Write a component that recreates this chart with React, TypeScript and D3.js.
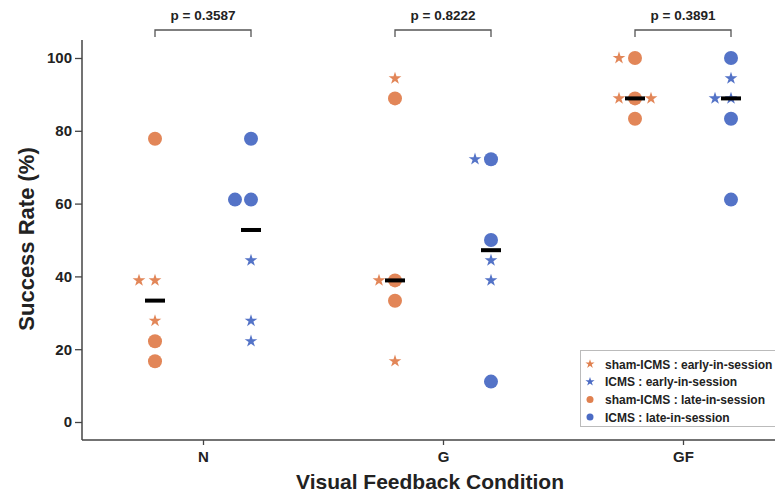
import React, { useEffect, useRef } from "react";
import * as d3 from "d3";

const categories = ["N", "G", "GF"];
const pValues = ["p = 0.3587", "p = 0.8222", "p = 0.3891"];
const yTicks = [0, 20, 40, 60, 80, 100];

// each point: category, value, side-by-side dodge slot (-1 left, 0 centre, 1 right)
const shamEarly = [
  { cat: "N", v: 38.9, d: -1 }, { cat: "N", v: 38.9, d: 0 }, { cat: "N", v: 27.8, d: 0 },
  { cat: "G", v: 94.4, d: 0 }, { cat: "G", v: 38.9, d: -1 }, { cat: "G", v: 16.7, d: 0 },
  { cat: "GF", v: 100, d: -1 }, { cat: "GF", v: 88.9, d: -1 }, { cat: "GF", v: 88.9, d: 1 },
];
const icmsEarly = [
  { cat: "N", v: 44.4, d: 0 }, { cat: "N", v: 27.8, d: 0 }, { cat: "N", v: 22.2, d: 0 },
  { cat: "G", v: 72.2, d: -1 }, { cat: "G", v: 44.4, d: 0 }, { cat: "G", v: 38.9, d: 0 },
  { cat: "GF", v: 94.4, d: 0 }, { cat: "GF", v: 88.9, d: -1 }, { cat: "GF", v: 88.9, d: 0 },
];
const shamLate = [
  { cat: "N", v: 77.8, d: 0 }, { cat: "N", v: 22.2, d: 0 }, { cat: "N", v: 16.7, d: 0 },
  { cat: "G", v: 88.9, d: 0 }, { cat: "G", v: 38.9, d: 0 }, { cat: "G", v: 33.3, d: 0 },
  { cat: "GF", v: 100, d: 0 }, { cat: "GF", v: 88.9, d: 0 }, { cat: "GF", v: 83.3, d: 0 },
];
const icmsLate = [
  { cat: "N", v: 77.8, d: 0 }, { cat: "N", v: 61.1, d: -1 }, { cat: "N", v: 61.1, d: 0 },
  { cat: "G", v: 72.2, d: 0 }, { cat: "G", v: 50, d: 0 }, { cat: "G", v: 11.1, d: 0 },
  { cat: "GF", v: 100, d: 0 }, { cat: "GF", v: 83.3, d: 0 }, { cat: "GF", v: 61.1, d: 0 },
];

const orange = "#E0804F";
const blue = "#4B6BC4";
const font = "Liberation Sans, Arial, sans-serif";

const App = () => {
  const ref = useRef<SVGSVGElement>(null);
  const width = 775;
  const height = 497;

  useEffect(() => {
    const svg = d3.select(ref.current);
    svg.selectAll("*").remove();

    const x = d3.scalePoint().domain(categories).range([83, 803]).padding(0.5);
    const y = d3.scaleLinear().domain([0, 100]).range([422, 58]);
    const groupOff = 48;
    const dodge = 16;

    // axes
    const yAxis = svg.append("g")
      .attr("transform", "translate(82,0)")
      .call(d3.axisLeft(y).tickValues(yTicks).tickSize(7).tickPadding(3).tickSizeOuter(0));
    yAxis.select(".domain").attr("d", "M0,40V440").attr("stroke", "#444").attr("stroke-width", 1.5);
    yAxis.selectAll(".tick line").attr("stroke", "#444").attr("stroke-width", 1.3);
    yAxis.selectAll(".tick text")
      .attr("font-family", font).attr("font-weight", "bold").attr("font-size", 15).attr("fill", "#222");

    const xAxis = svg.append("g")
      .attr("transform", "translate(0,440)")
      .call(d3.axisBottom(x).tickSize(5).tickPadding(6).tickSizeOuter(0));
    xAxis.select(".domain").attr("d", "M82,0H775").attr("stroke", "#444").attr("stroke-width", 1.5);
    xAxis.selectAll(".tick line").attr("stroke", "#444").attr("stroke-width", 1.3);
    xAxis.selectAll(".tick text")
      .attr("font-family", font).attr("font-weight", "bold").attr("font-size", 15).attr("fill", "#222");

    svg.append("text")
      .attr("transform", `translate(34,239) rotate(-90)`)
      .attr("text-anchor", "middle")
      .attr("font-family", font).attr("font-weight", "bold").attr("font-size", 22).attr("fill", "#222")
      .text("Success Rate (%)");
    svg.append("text")
      .attr("x", 430).attr("y", 489)
      .attr("text-anchor", "middle")
      .attr("font-family", font).attr("font-weight", "bold").attr("font-size", 21).attr("fill", "#222")
      .text("Visual Feedback Condition");

    const star = d3.symbol().type(d3.symbolStar).size(50)();
    const px = (p: any, side: number) => (x(p.cat) as number) + side * groupOff + p.d * dodge;

    const drawStars = (data: any[], side: number, color: string) => {
      svg.append("g").selectAll("path").data(data).enter().append("path")
        .attr("d", star)
        .attr("transform", (p) => `translate(${px(p, side)},${y(p.v)})`)
        .attr("fill", color).attr("opacity", 0.95);
    };
    const drawDots = (data: any[], side: number, color: string) => {
      svg.append("g").selectAll("circle").data(data).enter().append("circle")
        .attr("cx", (p) => px(p, side)).attr("cy", (p) => y(p.v))
        .attr("r", 7).attr("fill", color).attr("opacity", 0.95);
    };

    drawDots(shamLate, -1, orange);
    drawDots(icmsLate, 1, blue);
    drawStars(shamEarly, -1, orange);
    drawStars(icmsEarly, 1, blue);

    // medians
    const groups = [
      { side: -1, data: shamEarly.concat(shamLate) },
      { side: 1, data: icmsEarly.concat(icmsLate) },
    ];
    groups.forEach((g) => {
      categories.forEach((c) => {
        const m = d3.median(g.data.filter((p) => p.cat === c), (p) => p.v) as number;
        svg.append("rect")
          .attr("x", (x(c) as number) + g.side * groupOff - 10)
          .attr("y", y(m) - 2)
          .attr("width", 20).attr("height", 4)
          .attr("fill", "#000");
      });
    });

    // significance brackets
    categories.forEach((c, i) => {
      const cx = x(c) as number;
      svg.append("path")
        .attr("d", `M${cx - groupOff},37V30H${cx + groupOff}V37`)
        .attr("fill", "none").attr("stroke", "#555").attr("stroke-width", 1.3);
      svg.append("text")
        .attr("x", cx).attr("y", 20)
        .attr("text-anchor", "middle")
        .attr("font-family", font).attr("font-weight", "bold").attr("font-size", 13.5).attr("fill", "#222")
        .text(pValues[i]);
    });

    // legend
    const legendItems = [
      { label: "sham-ICMS : early-in-session", color: orange, shape: "star" },
      { label: "ICMS : early-in-session", color: blue, shape: "star" },
      { label: "sham-ICMS : late-in-session", color: orange, shape: "dot" },
      { label: "ICMS : late-in-session", color: blue, shape: "dot" },
    ];
    const lg = svg.append("g").attr("transform", "translate(580,350)");
    lg.append("rect")
      .attr("x", 0.5).attr("y", 0.5).attr("width", 215).attr("height", 76)
      .attr("fill", "#fff").attr("stroke", "#bbb");
    const smallStar = d3.symbol().type(d3.symbolStar).size(26)();
    legendItems.forEach((it, i) => {
      const ly = 14 + i * 17.7;
      if (it.shape === "star") {
        lg.append("path").attr("d", smallStar).attr("transform", `translate(10,${ly})`).attr("fill", it.color);
      } else {
        lg.append("circle").attr("cx", 10).attr("cy", ly).attr("r", 3.5).attr("fill", it.color);
      }
      lg.append("text")
        .attr("x", 25).attr("y", ly + 4.5)
        .attr("font-family", font).attr("font-weight", "bold").attr("font-size", 12).attr("fill", "#222")
        .text(it.label);
    });
  }, []);

  return (
    <svg
      ref={ref}
      width={width}
      height={height}
      style={{ position: "absolute", left: 0, top: 0, background: "#fff" }}
    />
  );
};

export default App;
